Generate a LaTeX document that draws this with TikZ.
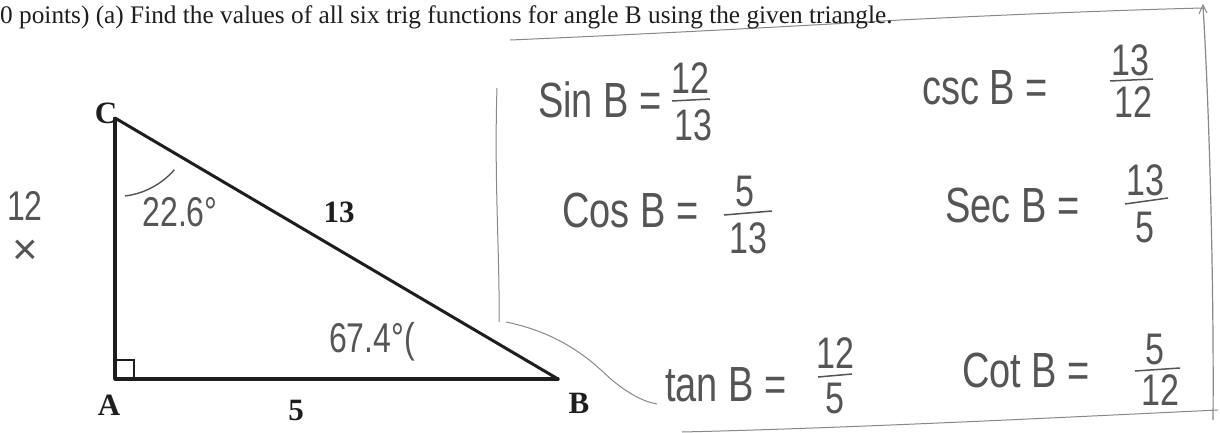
\documentclass[tikz,border=0pt]{standalone}
\usepackage{graphicx}
\usepackage{fontspec}
\setmainfont{Liberation Serif}
\newfontfamily\hand{Liberation Sans}
\newcommand{\tall}[1]{\scalebox{1}[1.3]{#1}}
\definecolor{pencil}{RGB}{85,85,85}
\definecolor{ink}{RGB}{30,30,30}
\tikzset{
  hw/.style={text=pencil, font=\hand\fontsize{38}{38}\selectfont, inner sep=0pt},
  hwnum/.style={text=pencil, font=\hand\fontsize{34}{34}\selectfont, inner sep=0pt},
  hwsmall/.style={text=pencil, font=\hand\fontsize{32}{32}\selectfont, inner sep=0pt},
  lbl/.style={text=ink, font=\bfseries\fontsize{31}{31}\selectfont, inner sep=0pt},
  side/.style={draw=ink, line width=3.4pt},
  pen/.style={draw=pencil, line width=1.4pt},
  faint/.style={draw=pencil!70, line width=1pt},
  fbar/.style={draw=pencil, line width=1.5pt},
}
\begin{document}
\begin{tikzpicture}[x=1pt,y=-1pt]
\useasboundingbox[fill=white] (0,0) rectangle (1220,433);
% faint pencil lines
\draw[faint] (510,40) .. controls (650,34) and (800,26) .. (900,20) .. controls (1000,15) and (1120,10) .. (1203,8);
\draw[faint, line width=1.2pt] (1203,6) .. controls (1210,120) and (1214,300) .. (1213,420);
\draw[faint] (1199,14) -- (1203,5) -- (1207,13);
\draw[faint] (682,432) .. controls (850,428) and (1050,418) .. (1218,410);
\draw[faint] (497,88) .. controls (494,180) and (500,260) .. (499,322);
\draw[faint] (506,322) .. controls (570,335) and (600,370) .. (612,380) .. controls (630,395) and (645,402) .. (657,404);
% title
\node[anchor=west, inner sep=0pt, text=ink, font=\fontsize{25.3}{25.3}\selectfont] (title) at (0,17)
  {0 points) (a) Find the values of all six trig functions for angle B using the given triangle.};
% triangle
\coordinate (A) at (115,379);
\coordinate (B) at (558,379);
\coordinate (C) at (115,118);
\draw[side, line cap=round] (A) -- (B);
\draw[side] (A) -- (C);
\draw[side, line width=3pt, line cap=round] (C) -- (B);
\draw[draw=ink, line width=2.4pt] (115,360) -- (134,360) -- (134,379);
\node[lbl] (lC) at (106,113) {C};
\node[lbl] (lA) at (109,405) {A};
\node[lbl] (lB) at (579,403) {B};
\node[lbl] (l5) at (296,410) {5};
\node[lbl] (l13) at (339,212) {13};
% handwritten notes on triangle
\node[hwsmall] (n12) at (25,206) {\tall{12}};
\node[hwsmall, font=\hand\fontsize{44}{44}\selectfont] (nx) at (25,252) {×};
\node[hwsmall] (a22) at (180,212) {\tall{22.6°}};
\draw[pen] (125,196) arc[start angle=83, end angle=41, radius=78];
\node[hwsmall] (a67) at (372,342) {\tall{67.4°(}};
% sin
\node[hw, anchor=west] (sin) at (538,100) {\tall{Sin B =}};
\node[hwnum] (sinN) at (690,78) {\tall{12}};
\node[hwnum] (sinD) at (693,125) {\tall{13}};
\draw[fbar] (672,101) -- (710,99);
% csc
\node[hw, anchor=west] (csc) at (922,88) {\tall{csc B =}};
\node[hwnum] (cscN) at (1130,60) {\tall{13}};
\node[hwnum] (cscD) at (1133,102) {\tall{12}};
\draw[fbar] (1110,81) -- (1153,79);
% cos
\node[hw, anchor=west] (cos) at (562,210) {\tall{Cos B =}};
\node[hwnum] (cosN) at (745,192) {\tall{5}};
\node[hwnum] (cosD) at (748,238) {\tall{13}};
\draw[fbar] (724,215) -- (772,211);
% sec
\node[hw, anchor=west] (sec) at (945,205) {\tall{Sec B =}};
\node[hwnum] (secN) at (1145,180) {\tall{13}};
\node[hwnum] (secD) at (1145,228) {\tall{5}};
\draw[fbar] (1125,204) -- (1168,198);
% tan
\node[hw, anchor=west] (tan) at (665,385) {\tall{tan B =}};
\node[hwnum] (tanN) at (835,353) {\tall{12}};
\node[hwnum] (tanD) at (835,399) {\tall{5}};
\draw[fbar] (818,377) -- (852,374);
% cot
\node[hw, anchor=west] (cot) at (962,370) {\tall{Cot B =}};
\node[hwnum] (cotN) at (1155,350) {\tall{5}};
\node[hwnum] (cotD) at (1160,390) {\tall{12}};
\draw[fbar] (1135,371) -- (1180,368);
\end{tikzpicture}
\end{document}
